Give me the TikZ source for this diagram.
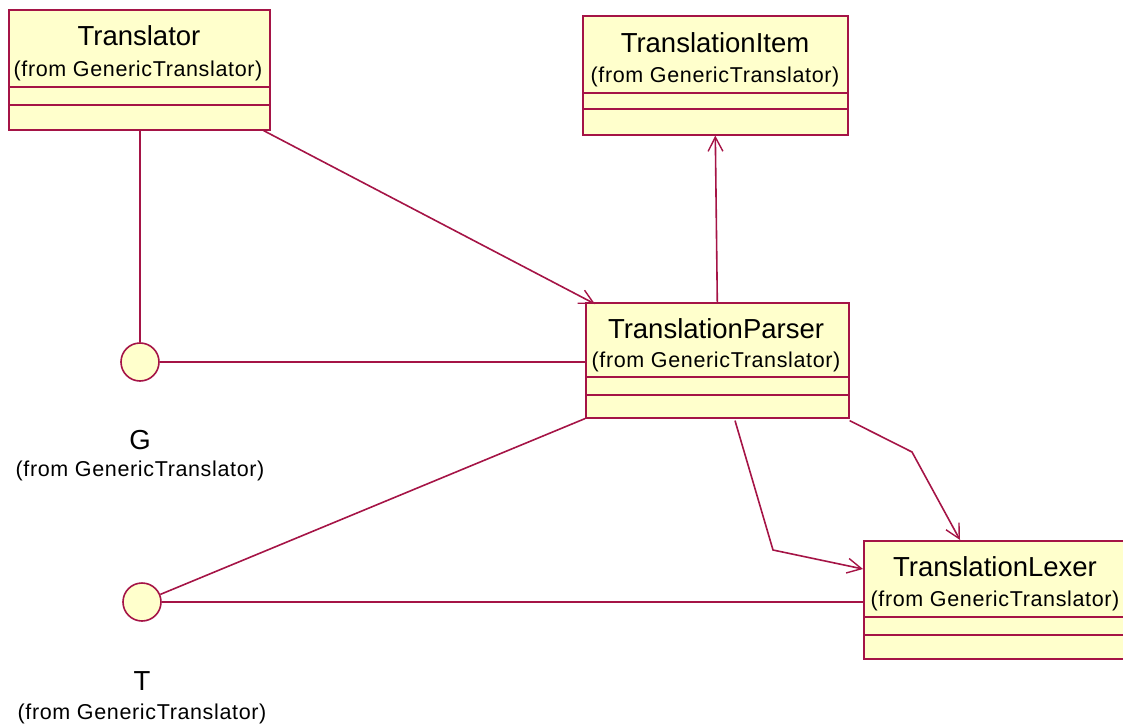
\documentclass[tikz,border=0pt]{standalone}
\usepackage{fontspec}
\setmainfont{Liberation Sans}
\newfontfamily\subfont[LetterSpace=3]{Liberation Sans}
\usetikzlibrary{arrows.meta}
\definecolor{umlline}{RGB}{165,20,70}
\definecolor{umlfill}{RGB}{255,255,204}
\tikzset{
  cls/.style={draw=umlline, fill=umlfill, line width=1.6pt, rectangle, anchor=north west, inner sep=0pt},
  comp/.style={draw=umlline, line width=1.6pt},
  iface/.style={draw=umlline, fill=umlfill, line width=1.6pt, circle, minimum size=38pt, inner sep=0pt},
  conn/.style={draw=umlline, line width=1.6pt},
  dep/.style={conn, -{Straight Barb[angle=55:16pt, line width=1.4pt]}},
  ttl/.style={font=\fontsize{27.5}{31}\selectfont, inner sep=0pt},
  sub/.style={font=\subfont\fontsize{21.5}{24}\selectfont, inner sep=0pt}
}
\begin{document}
\begin{tikzpicture}[x=1pt,y=-1pt]
\useasboundingbox (0,0) rectangle (1123,727);
% Translator
\node[cls, minimum width=261pt, minimum height=120pt] (tr) at (8,9) {};
\draw[comp] (tr.west |- 0,87) -- (tr.east |- 0,87);
\draw[comp] (tr.west |- 0,105) -- (tr.east |- 0,105);
\node[ttl] (trt) at (139,36) {Translator};
\node[sub] (trs) at (138,71) {(from GenericTranslator)};
% TranslationItem
\node[cls, minimum width=265pt, minimum height=119pt] (it) at (582,15) {};
\draw[comp] (it.west |- 0,93) -- (it.east |- 0,93);
\draw[comp] (it.west |- 0,109) -- (it.east |- 0,109);
\node[ttl] (itt) at (715,43) {TranslationItem};
\node[sub] (its) at (715,77) {(from GenericTranslator)};
% TranslationParser
\node[cls, minimum width=263pt, minimum height=115pt] (pa) at (585,302) {};
\draw[comp] (pa.west |- 0,377) -- (pa.east |- 0,377);
\draw[comp] (pa.west |- 0,395) -- (pa.east |- 0,395);
\node[ttl] (pat) at (716,329) {TranslationParser};
\node[sub] (pas) at (716,362) {(from GenericTranslator)};
% TranslationLexer
\node[cls, minimum width=285pt, minimum height=118pt] (lx) at (863,540) {};
\draw[comp] (lx.west |- 0,617) -- (lx.east |- 0,617);
\draw[comp] (lx.west |- 0,635) -- (lx.east |- 0,635);
\node[ttl] (lxt) at (995,567) {TranslationLexer};
\node[sub] (lxs) at (995,601) {(from GenericTranslator)};
% interfaces
\node[iface] (g) at (140,362) {};
\node[ttl] (gl) at (140,440) {G};
\node[sub] (gs) at (140,471) {(from GenericTranslator)};
\node[iface] (t) at (142,602) {};
\node[ttl] (tl) at (142,681) {T};
\node[sub] (ts) at (142,714) {(from GenericTranslator)};
% connectors
\draw[conn] (tr.south -| g) -- (g.north);
\draw[conn] (g.east) -- (g.east -| pa.west);
\draw[dep] ([xshift=-7pt]tr.south east) -- ([xshift=10pt,yshift=-2pt]pa.north west);
\draw[dep] (pa.north) -- (it.south);
\draw[conn] (pa.south west) -- (t);
\draw[conn] (t.east) -- (t.east -| lx.west);
\coordinate (b1) at (773,550);
\coordinate (b2) at (912,452);
\draw[dep] ([xshift=150pt,yshift=-2pt]pa.south west) -- (b1) -- ([yshift=-29pt]lx.north west);
\draw[dep] ([yshift=-2pt]pa.south east) -- (b2) -- ([xshift=97pt]lx.north west);
\end{tikzpicture}
\end{document}
